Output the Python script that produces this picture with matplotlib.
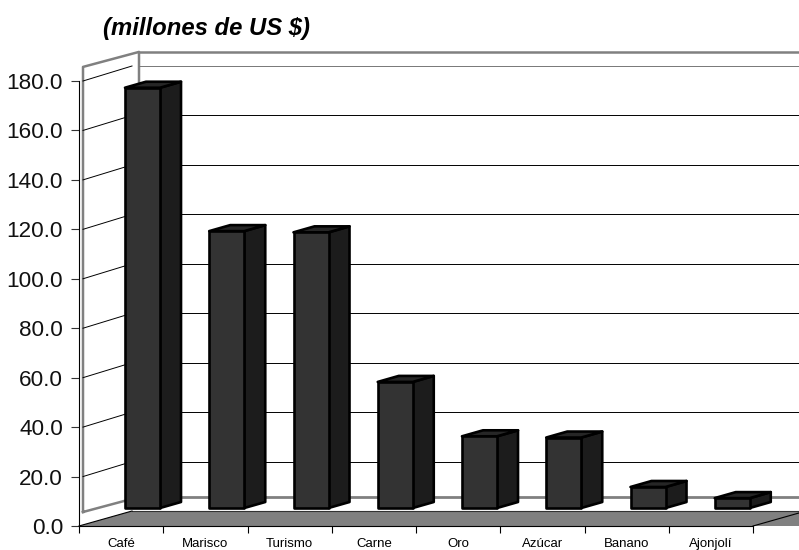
import numpy as np
from matplotlib import pyplot as plt
from matplotlib.patches import Polygon

plt.rcParams['font.family'] = ['Liberation Sans', 'DejaVu Sans']

categories = ["Café", "Marisco", "Turismo", "Carne", "Oro", "Azúcar", "Banano", "Ajonjolí"]
values = [170.0, 112.0, 111.5, 51.0, 29.0, 28.5, 8.5, 4.0]
y_ticks = [0, 20, 40, 60, 80, 100, 120, 140, 160, 180]

W, H = 799, 550
left, right, bottom, top = 79, 753, 526, 81

fig = plt.figure(figsize=(W / 100, H / 100), dpi=100)
ax = fig.add_axes([left / W, 1 - bottom / H, (right - left) / W, (bottom - top) / H])
ax.set_xlim(0, len(categories))
ax.set_ylim(0, 180)
ax.patch.set_visible(False)

# pixels -> data units, the fake 3d depth is all in pixels
ux = len(categories) / (right - left)
uy = 180 / (bottom - top)


def poly(points, **kw):
    ax.add_patch(Polygon(points, closed=True, clip_on=False, **kw))


def seg(xs, ys, **kw):
    ax.plot(xs, ys, clip_on=False, solid_capstyle='projecting', **kw)


GRAY = '#808080'
x_end = (W + 10 - left) * ux
floor_dx, floor_dy = 53 * ux, 15 * uy
wall_dx = 60 * ux
wall_x0 = 4 * ux
wall_low, wall_high = 14 * uy, 186 - 0.3

# side wall and back wall outline
seg([wall_x0, wall_x0, wall_dx, wall_dx, wall_x0], [wall_low, wall_high, wall_high + floor_dy, wall_low + floor_dy, wall_low],
    color=GRAY, lw=1.8, zorder=1)
seg([wall_dx, x_end], [wall_high + floor_dy] * 2, color=GRAY, lw=1.8, zorder=1)
seg([wall_dx, x_end], [wall_low + floor_dy] * 2, color=GRAY, lw=2.0, zorder=1)

# gridlines
for v in y_ticks[1:]:
    c = '#777777' if v == 180 else 'black'
    seg([wall_x0, floor_dx], [v, v + floor_dy], color='black', lw=0.7, zorder=2)
    seg([wall_dx, x_end], [v + floor_dy] * 2, color=c, lw=0.7, zorder=2)

# floor
poly([(0, 0), (floor_dx, floor_dy), (x_end + floor_dx, floor_dy), (x_end, 0)], facecolor=GRAY, edgecolor='none', zorder=3)
seg([floor_dx, x_end], [floor_dy] * 2, color='#333333', lw=0.8, zorder=3)
seg([len(categories), len(categories) + floor_dx], [0, floor_dy], color='black', lw=0.8, zorder=3)
seg([0, floor_dx], [0, floor_dy], color='black', lw=0.8, zorder=3)

# bars
bar_w = 35 * ux
bar_x = 46 * ux
base = 18 * uy
dx, dy = 21 * ux, 6 * uy
edge = dict(edgecolor='black', lw=1.9, joinstyle='round', zorder=4)
for i, v in enumerate(values):
    x0 = i + bar_x
    x1 = x0 + bar_w
    y0 = base
    y1 = base + v
    poly([(x1, y0), (x1 + dx, y0 + dy), (x1 + dx, y1 + dy), (x1, y1)], facecolor='#1c1c1c', **edge)
    poly([(x0, y1), (x0 + dx, y1 + dy), (x1 + dx, y1 + dy), (x1, y1)], facecolor='#262626', **edge)
    poly([(x0, y0), (x1, y0), (x1, y1), (x0, y1)], facecolor='#333333', **edge)

for s in ['top', 'right']:
    ax.spines[s].set_visible(False)
for s in ['left', 'bottom']:
    ax.spines[s].set_linewidth(0.8)
    ax.spines[s].set_zorder(5)

ax.set_yticks(y_ticks)
ax.set_yticklabels([f"{v:.1f}" for v in y_ticks], fontsize=16.2, color='#111111')
ax.tick_params(axis='y', length=5.5, width=0.8, pad=6, color='#333333')
ax.set_xticks(range(len(categories) + 1))
ax.set_xticklabels([])
ax.set_xticks(np.arange(len(categories)) + 0.5, categories, minor=True, fontsize=9.5)
ax.tick_params(axis='x', which='major', length=5, width=0.8)
ax.tick_params(axis='x', which='minor', length=0, pad=8.4)

fig.text(103 / W, 1 - 28.5 / H, "(millones de US $)", fontsize=17.2, fontweight='bold', fontstyle='italic',
         ha='left', va='center')

fig.savefig('out.png', dpi=100)
